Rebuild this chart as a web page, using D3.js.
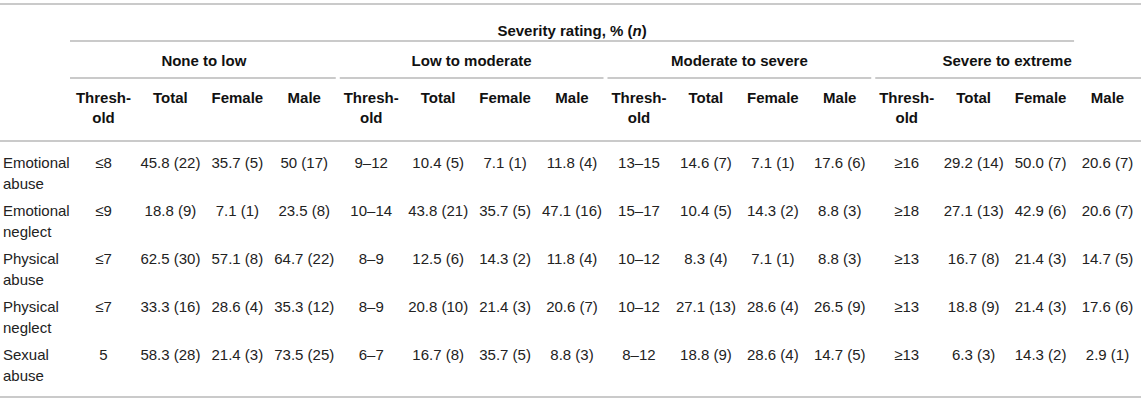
<!DOCTYPE html>
<html>
<head>
<meta charset="utf-8">
<script src="https://cdn.jsdelivr.net/npm/d3@7"></script>
<style>
  body { margin: 0; background: #fff; }
  text { font-family: "Liberation Sans", Arial, Helvetica, sans-serif; font-size: 15px; fill: #222; }
  .head { font-weight: bold; fill: #111; }
  .rule { stroke: #b8b8b8; stroke-width: 1.5; }
</style>
</head>
<body>
<div id="table"></div>
<script>
// Table data
var categories = ["Emotional abuse", "Emotional neglect", "Physical abuse", "Physical neglect", "Sexual abuse"];
var groups = ["None to low", "Low to moderate", "Moderate to severe", "Severe to extreme"];
var subColumns = ["Thresh-|old", "Total", "Female", "Male"];

// one array per severity group: [threshold, total, female, male] per category
var noneToLow = [
  ["≤8", "45.8 (22)", "35.7 (5)", "50 (17)"],
  ["≤9", "18.8 (9)", "7.1 (1)", "23.5 (8)"],
  ["≤7", "62.5 (30)", "57.1 (8)", "64.7 (22)"],
  ["≤7", "33.3 (16)", "28.6 (4)", "35.3 (12)"],
  ["5", "58.3 (28)", "21.4 (3)", "73.5 (25)"]
];
var lowToModerate = [
  ["9–12", "10.4 (5)", "7.1 (1)", "11.8 (4)"],
  ["10–14", "43.8 (21)", "35.7 (5)", "47.1 (16)"],
  ["8–9", "12.5 (6)", "14.3 (2)", "11.8 (4)"],
  ["8–9", "20.8 (10)", "21.4 (3)", "20.6 (7)"],
  ["6–7", "16.7 (8)", "35.7 (5)", "8.8 (3)"]
];
var moderateToSevere = [
  ["13–15", "14.6 (7)", "7.1 (1)", "17.6 (6)"],
  ["15–17", "10.4 (5)", "14.3 (2)", "8.8 (3)"],
  ["10–12", "8.3 (4)", "7.1 (1)", "8.8 (3)"],
  ["10–12", "27.1 (13)", "28.6 (4)", "26.5 (9)"],
  ["8–12", "18.8 (9)", "28.6 (4)", "14.7 (5)"]
];
var severeToExtreme = [
  ["≥16", "29.2 (14)", "50.0 (7)", "20.6 (7)"],
  ["≥18", "27.1 (13)", "42.9 (6)", "20.6 (7)"],
  ["≥13", "16.7 (8)", "21.4 (3)", "14.7 (5)"],
  ["≥13", "18.8 (9)", "21.4 (3)", "17.6 (6)"],
  ["≥13", "6.3 (3)", "14.3 (2)", "2.9 (1)"]
];
var groupValues = [noneToLow, lowToModerate, moderateToSevere, severeToExtreme];

var width = 1145, height = 401;

var svg = d3.select("#table").append("svg")
    .attr("width", width)
    .attr("height", height);

// Column scale: 16 value columns after the label column
var colIds = d3.range(groups.length * subColumns.length);
var x = d3.scaleBand().domain(colIds).range([70, 1141]);
var groupX = d3.scaleBand().domain(groups).range([70, 1141]);
var y = d3.scaleBand().domain(categories).range([141, 381]);

// Horizontal rules
function rule(x1, x2, yy) {
  svg.append("line").attr("class", "rule")
     .attr("x1", x1).attr("x2", x2)
     .attr("y1", yy).attr("y2", yy);
}
rule(0, 1141, 4);
rule(70, x(colIds.length - 1), 41);
groups.forEach(function(g, i) {
  var x0 = groupX(g), x1 = x0 + groupX.bandwidth();
  rule(x0 + (i > 0 ? 2 : 0), x1 - (i < groups.length - 1 ? 2 : 0), 78);
});
rule(0, 1141, 141);
rule(0, 1141, 397);

// Spanning header
var sev = svg.append("text").attr("class", "head")
    .attr("x", (70 + x(colIds.length - 1)) / 2)
    .attr("y", 36)
    .attr("text-anchor", "middle");
sev.append("tspan").text("Severity rating, % (");
sev.append("tspan").style("font-style", "italic").text("n");
sev.append("tspan").text(")");

// Group headers
svg.selectAll(".group")
  .data(groups)
  .enter().append("text")
    .attr("class", "head")
    .attr("x", function(d) { return groupX(d) + groupX.bandwidth() / 2; })
    .attr("y", 66)
    .attr("text-anchor", "middle")
    .text(function(d) { return d; });

// Sub-column headers
var subHead = svg.selectAll(".sub")
  .data(colIds)
  .enter().append("text")
    .attr("class", "head")
    .attr("text-anchor", "middle")
    .attr("x", function(d) { return x(d) + x.bandwidth() / 2; })
    .attr("y", 103);
subHead.each(function(d) {
  var lines = subColumns[d % subColumns.length].split("|");
  var t = d3.select(this);
  lines.forEach(function(l, i) {
    t.append("tspan")
     .attr("x", x(d) + x.bandwidth() / 2)
     .attr("dy", i === 0 ? 0 : 20)
     .text(l);
  });
});

// Row labels
var labels = svg.selectAll(".label")
  .data(categories)
  .enter().append("text")
    .attr("x", 3)
    .attr("y", function(d) { return y(d) + 27; });
labels.each(function(d) {
  var t = d3.select(this);
  d.split(" ").forEach(function(w, i) {
    t.append("tspan").attr("x", 3).attr("dy", i === 0 ? 0 : 21).text(w);
  });
});

// Cells
var cells = [];
categories.forEach(function(c, r) {
  groupValues.forEach(function(vals, g) {
    vals[r].forEach(function(v, k) {
      cells.push({ cat: c, col: g * subColumns.length + k, value: v });
    });
  });
});

svg.selectAll(".cell")
  .data(cells)
  .enter().append("text")
    .attr("text-anchor", "middle")
    .attr("x", function(d) { return x(d.col) + x.bandwidth() / 2; })
    .attr("y", function(d) { return y(d.cat) + 27; })
    .text(function(d) { return d.value; });
</script>
</body>
</html>
